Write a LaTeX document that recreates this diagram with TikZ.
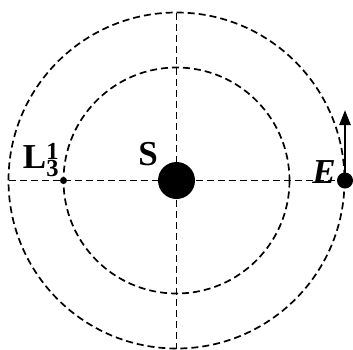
\documentclass[tikz,border=0pt]{standalone}
\usepackage{fontspec}
\setmainfont{Liberation Serif}
\usetikzlibrary{arrows.meta}

\begin{document}
\begin{tikzpicture}[x=1pt,y=-1pt,
orbit/.style={draw=black,dashed,dash pattern=on 7pt off 4pt,line width=1.7pt},
lbl/.style={font=\fontsize{35}{40}\selectfont\bfseries,inner sep=0pt}
]
\useasboundingbox (0,0) rectangle (353,349);

% -------- Orbits and axes --------
\coordinate (C) at (176.5,180.5);
\draw[orbit] (C) circle[radius=168];
\draw[orbit] (C) circle[radius=113];
\draw[orbit] (8.5,180.5) -- (345,180.5);
\draw[orbit] (176.5,12.5) -- (176.5,348.5);

% -------- Bodies --------
\node[circle,fill=black,minimum size=37pt,inner sep=0pt] (sun) at (C) {};
\node[circle,fill=black,minimum size=7pt,inner sep=0pt] (lpoint) at (63.5,180.5) {};
\node[circle,fill=black,minimum size=16pt,inner sep=0pt] (earth) at (345,180.5) {};
\coordinate (vtip) at (345,110);
\draw[line width=2.4pt,-{Triangle[length=15pt,width=11pt]}] (earth.center) -- (vtip);

% -------- Labels --------
\node[lbl] (slbl) at (148,154) {S};
\node[lbl] (llbl) at (41,160) {L$_{\mathbf{3}}^{\mathbf{1}}$};
\node[lbl,font=\fontsize{35}{40}\selectfont\bfseries\itshape] (elbl) at (324,172) {E};

\end{tikzpicture}
\end{document}
